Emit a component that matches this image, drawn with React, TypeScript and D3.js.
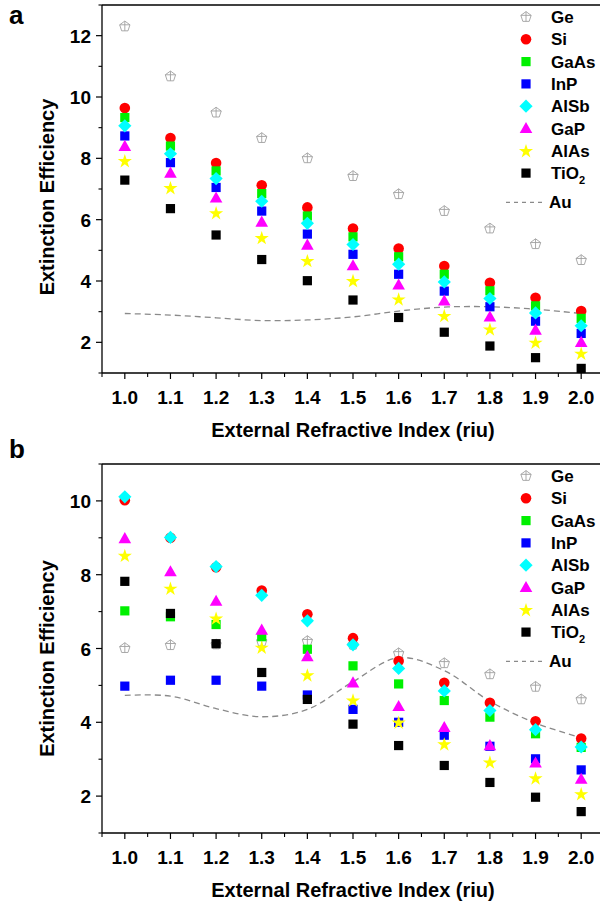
import React from "react";
import * as d3 from "d3";

const riu = [1.0, 1.1, 1.2, 1.3, 1.4, 1.5, 1.6, 1.7, 1.8, 1.9, 2.0];
const xTickLabels = ["1.0", "1.1", "1.2", "1.3", "1.4", "1.5", "1.6", "1.7", "1.8", "1.9", "2.0"];
const materials = ["Ge", "Si", "GaAs", "InP", "AlSb", "GaP", "AlAs", "TiO2"];
const colors = ["#a0a0a0", "#ff0000", "#00f000", "#0000ff", "#00ffff", "#ff00ff", "#ffff00", "#000000"];
const shapes = ["pentagon", "circle", "square", "square", "diamond", "triangle", "star", "square"];

// Panel a
const aGe = [12.3, 10.67, 9.49, 8.66, 8.0, 7.42, 6.83, 6.28, 5.71, 5.2, 4.68];
const aSi = [9.64, 8.66, 7.85, 7.12, 6.4, 5.71, 5.06, 4.49, 3.94, 3.45, 3.02];
const aGaAs = [9.33, 8.4, 7.59, 6.85, 6.12, 5.44, 4.79, 4.22, 3.68, 3.19, 2.78];
const aInP = [8.73, 7.86, 7.05, 6.28, 5.53, 4.87, 4.22, 3.67, 3.16, 2.69, 2.29];
const aAlSb = [9.06, 8.15, 7.34, 6.6, 5.88, 5.19, 4.55, 3.97, 3.43, 2.96, 2.54];
const aGaP = [8.39, 7.52, 6.71, 5.92, 5.17, 4.5, 3.87, 3.35, 2.83, 2.4, 2.0];
const aAlAs = [7.92, 7.04, 6.22, 5.41, 4.66, 4.01, 3.41, 2.87, 2.43, 2.0, 1.64];
const aTiO2 = [7.29, 6.36, 5.5, 4.7, 4.01, 3.38, 2.81, 2.33, 1.88, 1.5, 1.15];
const aAu = [2.94, 2.89, 2.8, 2.71, 2.73, 2.83, 3.02, 3.15, 3.16, 3.08, 2.94];

// Panel b
const bGe = [6.01, 6.09, 6.11, 6.19, 6.2, 6.1, 5.87, 5.6, 5.3, 4.96, 4.62];
const bSi = [10.02, 9.0, 8.2, 7.57, 6.93, 6.28, 5.66, 5.07, 4.53, 4.03, 3.56];
const bGaAs = [7.02, 6.86, 6.65, 6.32, 5.98, 5.53, 5.04, 4.59, 4.14, 3.69, 3.32];
const bInP = [4.98, 5.14, 5.14, 4.98, 4.74, 4.35, 4.0, 3.65, 3.35, 3.01, 2.71];
const bAlSb = [10.11, 9.01, 8.22, 7.44, 6.75, 6.1, 5.46, 4.85, 4.32, 3.8, 3.33];
const bGaP = [8.98, 8.08, 7.28, 6.5, 5.78, 5.07, 4.43, 3.86, 3.37, 2.9, 2.46];
const bAlAs = [8.52, 7.63, 6.82, 6.03, 5.28, 4.6, 4.0, 3.41, 2.92, 2.49, 2.06];
const bTiO2 = [7.82, 6.95, 6.13, 5.35, 4.62, 3.95, 3.37, 2.83, 2.37, 1.97, 1.58];
const bAu = [4.73, 4.71, 4.37, 4.15, 4.35, 5.1, 5.75, 5.4, 4.57, 3.98, 3.58];

const aYTicks = [2, 4, 6, 8, 10, 12];
const bYTicks = [2, 4, 6, 8, 10];

const FONT = "'Liberation Sans', Arial, sans-serif";

function Marker({ shape, color, x, y }: { shape: string; color: string; x: number; y: number }) {
  if (shape === "circle") return <circle cx={x} cy={y} r={5.3} fill={color} />;
  if (shape === "square") return <rect x={x - 4.6} y={y - 4.6} width={9.2} height={9.2} fill={color} />;
  if (shape === "diamond")
    return <path d={`M${x},${y - 6.6}L${x + 6.6},${y}L${x},${y + 6.6}L${x - 6.6},${y}Z`} fill={color} />;
  if (shape === "triangle")
    return <path d={`M${x},${y - 6.5}L${x + 6.3},${y + 4.6}L${x - 6.3},${y + 4.6}Z`} fill={color} />;
  if (shape === "star") {
    const p = d3.symbol().type(d3.symbolStar).size(62)() as string;
    return <path d={p} transform={`translate(${x},${y + 0.6})`} fill={color} />;
  }
  // pentagon with cross (hollow)
  const r = 5.4;
  const pts = d3.range(5).map((i) => {
    const a = -Math.PI / 2 + (i * 2 * Math.PI) / 5;
    return [x + r * Math.cos(a), y + r * Math.sin(a)];
  });
  const d = "M" + pts.map((p) => p.join(",")).join("L") + "Z";
  return (
    <g fill="none" stroke={color} strokeWidth={0.9}>
      <path d={d} />
      <line x1={pts[4][0]} y1={pts[4][1]} x2={pts[1][0]} y2={pts[1][1]} />
      <line x1={x} y1={y - r} x2={x} y2={y + r * 0.81} />
    </g>
  );
}

type PanelProps = {
  label: string;
  top: number;
  bottom: number;
  yDomain: [number, number];
  yTicks: number[];
  series: number[][];
  au: number[];
  labelY: number;
  titleShift: number;
};

function Panel({ label, top, bottom, yDomain, yTicks, series, au, labelY, titleShift }: PanelProps) {
  const left = 102;
  const x = d3.scaleLinear().domain([0.95, 2.05]).range([left, 604]);
  const y = d3.scaleLinear().domain(yDomain).range([bottom, top]);
  const minorY = d3.range(yDomain[0], yDomain[1] + 0.001, 2).filter((v) => !yTicks.includes(v));
  const minorX = d3.range(0, 12).map((i) => 0.95 + i * 0.1);
  const line = d3
    .line<number>()
    .x((_, i) => x(riu[i]))
    .y((v) => y(v))
    .curve(d3.curveCatmullRom.alpha(0.5));
  const legendX = 526;
  const legendTextX = 551;
  const legendY0 = top + 12;
  const step = 22.3;
  return (
    <g fontFamily={FONT} fontWeight="bold">
      <text x={9} y={labelY} fontSize={26} fill="#000">
        {label}
      </text>
      {/* axes */}
      <line x1={left} y1={top} x2={600} y2={top} stroke="#000" strokeWidth={1.3} />
      <line x1={left} y1={top} x2={left} y2={bottom} stroke="#000" strokeWidth={1.3} />
      <line x1={left} y1={bottom} x2={600} y2={bottom} stroke="#000" strokeWidth={1.3} />
      {yTicks.map((t) => (
        <g key={"yt" + t}>
          <line x1={left - 6} x2={left} y1={y(t)} y2={y(t)} stroke="#000" strokeWidth={1.2} />
          <text x={left - 11} y={y(t) + 7} fontSize={19} textAnchor="end">
            {t}
          </text>
        </g>
      ))}
      {minorY.map((t) => (
        <line key={"ym" + t} x1={left - 3.5} x2={left} y1={y(t)} y2={y(t)} stroke="#000" strokeWidth={1.1} />
      ))}
      {riu.map((t, i) => (
        <g key={"xt" + t}>
          <line x1={x(t)} x2={x(t)} y1={bottom} y2={bottom + 6} stroke="#000" strokeWidth={1.2} />
          <text x={x(t)} y={bottom + 31} fontSize={19} textAnchor="middle">
            {xTickLabels[i]}
          </text>
        </g>
      ))}
      {minorX.map((t) => (
        <line key={"xm" + t} x1={x(t)} x2={x(t)} y1={bottom} y2={bottom + 4} stroke="#000" strokeWidth={1.1} />
      ))}
      <text
        transform={`translate(54,${(top + bottom) / 2 + titleShift}) rotate(-90)`}
        fontSize={20}
        textAnchor="middle"
      >
        Extinction Efficiency
      </text>
      <text x={353} y={bottom + 64} fontSize={20} textAnchor="middle">
        External Refractive Index (riu)
      </text>
      {/* Au line */}
      <path d={line(au) as string} fill="none" stroke="#8a8a8a" strokeWidth={1.3} strokeDasharray="6,4" />
      {/* markers */}
      {series.map((s, si) =>
        s.map((v, i) => (
          <Marker key={si + "-" + i} shape={shapes[si]} color={colors[si]} x={x(riu[i])} y={y(v)} />
        ))
      )}
      {/* legend */}
      {materials.map((m, i) => (
        <g key={"lg" + m}>
          <Marker shape={shapes[i]} color={colors[i]} x={legendX} y={legendY0 + i * step} />
          <text x={legendTextX} y={legendY0 + i * step + 6} fontSize={17}>
            {m === "TiO2" ? (
              <>
                TiO
                <tspan fontSize={11} dy={5}>
                  2
                </tspan>
              </>
            ) : (
              m
            )}
          </text>
        </g>
      ))}
      <line
        x1={506}
        x2={544}
        y1={legendY0 + 8 * step + 7}
        y2={legendY0 + 8 * step + 7}
        stroke="#8a8a8a"
        strokeWidth={1.3}
        strokeDasharray="4,4"
      />
      <text x={legendTextX - 2} y={legendY0 + 8 * step + 13} fontSize={17}>
        Au
      </text>
    </g>
  );
}

export default function App() {
  const aSeries = [aGe, aSi, aGaAs, aInP, aAlSb, aGaP, aAlAs, aTiO2];
  const bSeries = [bGe, bSi, bGaAs, bInP, bAlSb, bGaP, bAlAs, bTiO2];
  return (
    <svg
      width={600}
      height={904}
      style={{ position: "absolute", left: 0, top: 0, background: "#fff" }}
    >
      <rect width={600} height={904} fill="#fff" />
      <Panel label="a" top={5} bottom={373} yDomain={[1, 13]} yTicks={aYTicks} series={aSeries} au={aAu} labelY={24} titleShift={8} />
      <Panel label="b" top={464} bottom={833} yDomain={[1, 11]} yTicks={bYTicks} series={bSeries} au={bAu} labelY={458} titleShift={10} />
    </svg>
  );
}
